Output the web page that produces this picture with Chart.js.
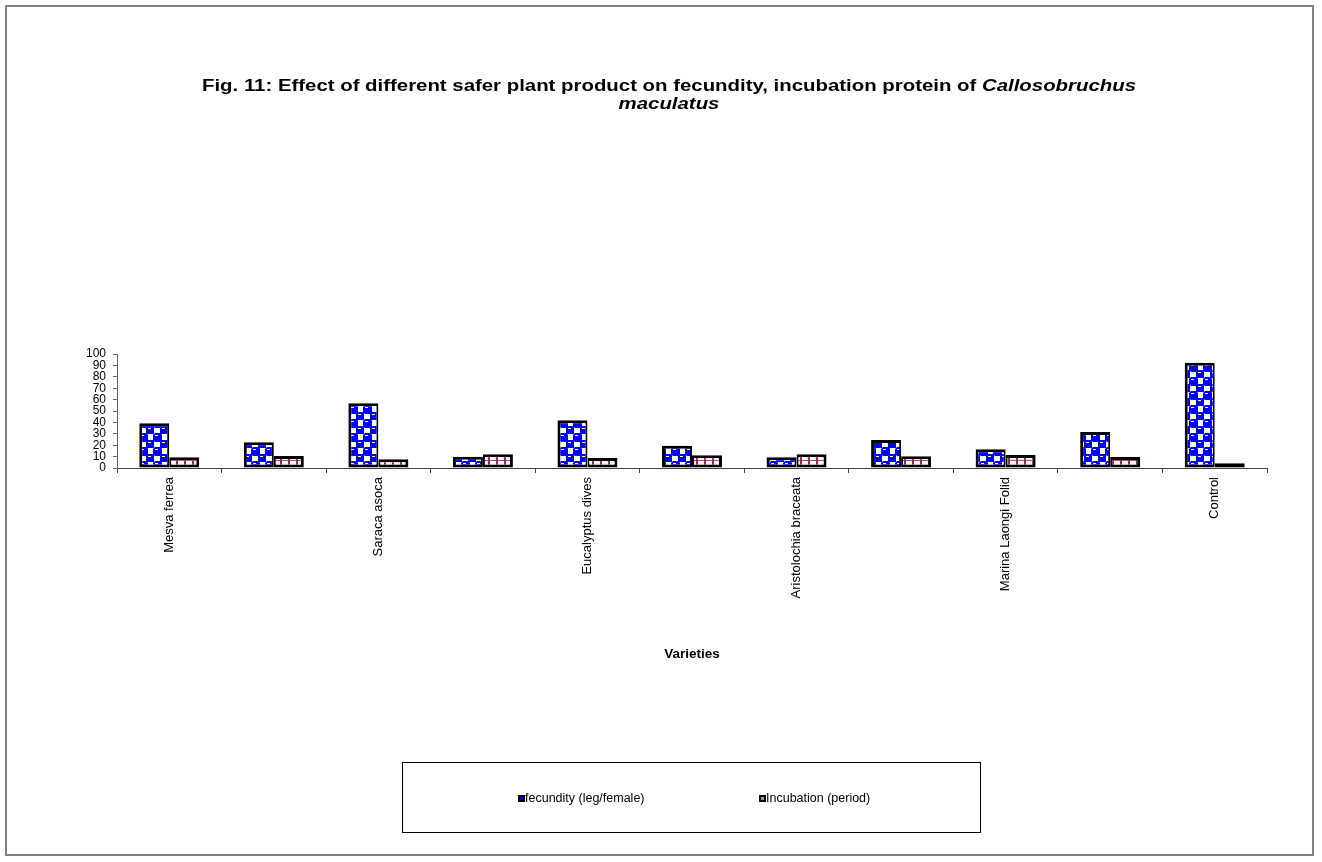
<!DOCTYPE html>
<html>
<head>
<meta charset="utf-8">
<script src="https://cdn.jsdelivr.net/npm/chart.js@4/dist/chart.umd.min.js"></script>
<style>
  html, body { margin: 0; padding: 0; background: #fff; }
  canvas { display: block; }
</style>
</head>
<body>
<canvas id="c" width="1322" height="862"></canvas>
<script>
// Treatments (only alternate names are printed on the axis)
const categories = ['Mesva ferrea', '', 'Saraca asoca', '', 'Eucalyptus dives', '',
  'Aristolochia braceata', '', 'Marina Laongi Folid', '', 'Control'];
const fecundity = [39.2, 22.5, 56.7, 9.9, 41.8, 19.6, 9.4, 24.6, 16.4, 31.6, 92.4];
const incubation = [9.4, 10.5, 7.6, 12.0, 8.8, 11.1, 12.0, 10.2, 11.4, 9.6, 4.1];
const seriesNames = ['fecundity (leg/female)', 'Incubation (period)'];
const yTicks = [0, 10, 20, 30, 40, 50, 60, 70, 80, 90, 100];

const FONT = '"Liberation Sans", Arial, Helvetica, sans-serif';

// Blue checker "sphere" fill
function spherePattern() {
  const t = document.createElement('canvas');
  t.width = 14; t.height = 14;
  const g = t.getContext('2d');
  g.fillStyle = '#ffffff'; g.fillRect(0, 0, 14, 14);
  const blob = (x, y) => {
    g.fillStyle = '#0000ff';
    g.beginPath();
    g.moveTo(x + 1, y - 1); g.lineTo(x + 7, y - 1); g.lineTo(x + 8, y + 1); g.lineTo(x + 8, y + 7);
    g.lineTo(x + 6, y + 8); g.lineTo(x + 1, y + 8); g.lineTo(x - 1, y + 6); g.lineTo(x - 1, y + 1);
    g.closePath(); g.fill();
    g.fillStyle = '#ffffff'; g.fillRect(x + 1, y + 1, 3, 1);
  };
  blob(0, 0); blob(14, 0); blob(0, 14); blob(14, 14); blob(7, 7);
  return g.createPattern(t, 'repeat');
}

// Maroon grid fill
function gridPattern() {
  const t = document.createElement('canvas');
  t.width = 8; t.height = 8;
  const g = t.getContext('2d');
  g.fillStyle = '#fcf4f7'; g.fillRect(0, 0, 8, 8);
  g.fillStyle = '#a8507c'; g.fillRect(0, 4, 8, 1);
  g.fillStyle = '#8e2c5c'; g.fillRect(0, 0, 2, 8);
  return g.createPattern(t, 'repeat');
}

const fillA = spherePattern();
const fillB = gridPattern();
const markA = '#0000ff', markB = '#c080a0';

// Frame, title and legend box
const decor = {
  id: 'decor',
  beforeDraw(chart) {
    const ctx = chart.ctx;
    ctx.save();
    ctx.fillStyle = '#fff';
    ctx.fillRect(0, 0, chart.width, chart.height);
    ctx.restore();
  },
  afterDraw(chart) {
    const ctx = chart.ctx;
    ctx.save();
    // outer frame
    ctx.strokeStyle = '#808080';
    ctx.lineWidth = 2;
    ctx.strokeRect(6, 6, 1307, 849);

    // title, stretched to the line width used by the figure
    const cx = 669, lineW = 934;
    const partA = 'Fig. 11: Effect of different safer plant product on fecundity, incubation protein of ';
    const partB = 'Callosobruchus';
    const fN = 'bold 16px ' + FONT, fI = 'italic bold 16px ' + FONT;
    ctx.fillStyle = '#000';
    ctx.textBaseline = 'middle';
    ctx.textAlign = 'left';
    ctx.font = fN; const wA = ctx.measureText(partA).width;
    ctx.font = fI; const wB = ctx.measureText(partB).width;
    const sx = lineW / (wA + wB);
    ctx.save();
    ctx.translate(cx, 0);
    ctx.scale(sx, 1);
    const x0 = -(wA + wB) / 2;
    ctx.font = fN; ctx.fillText(partA, x0, 87);
    ctx.font = fI; ctx.fillText(partB, x0 + wA, 87);
    ctx.textAlign = 'center';
    ctx.fillText('maculatus', 0, 105);
    ctx.restore();

    // legend
    ctx.strokeStyle = '#000';
    ctx.lineWidth = 1;
    ctx.strokeRect(402.5, 762.5, 578, 70);
    const items = [[518, markA], [759, markB]];
    ctx.font = '12.5px ' + FONT;
    ctx.textAlign = 'left';
    ctx.textBaseline = 'middle';
    items.forEach(([x, col], i) => {
      ctx.fillStyle = '#000';
      ctx.fillRect(x, 795, 7, 7);
      ctx.fillStyle = col;
      ctx.fillRect(x + 2, 797, 3, 3);
      ctx.fillStyle = '#000';
      ctx.fillText(chart.data.datasets[i].label, x + 7, 799);
    });
    ctx.restore();
  }
};

new Chart(document.getElementById('c'), {
  type: 'bar',
  data: {
    labels: categories,
    datasets: [
      {
        label: seriesNames[0],
        data: fecundity,
        backgroundColor: fillA,
        borderColor: '#000',
        borderWidth: { top: 3, left: 3, bottom: 3, right: 2 },
        borderSkipped: false,
        barPercentage: 1.0,
        categoryPercentage: 0.574
      },
      {
        label: seriesNames[1],
        data: incubation,
        backgroundColor: fillB,
        borderColor: '#000',
        borderWidth: { top: 3, left: 2, bottom: 3, right: 3 },
        borderSkipped: false,
        barPercentage: 1.0,
        categoryPercentage: 0.574
      }
    ]
  },
  options: {
    responsive: false,
    animation: false,
    layout: { padding: { left: 57, right: 55, top: 354, bottom: 200 } },
    plugins: { legend: { display: false }, tooltip: { enabled: false } },
    scales: {
      x: {
        afterFit: s => { s.height = 194; },
        ticks: {
          autoSkip: false, maxRotation: 90, minRotation: 90,
          color: '#000', padding: 4,
          font: { family: FONT, size: 13 }
        },
        grid: { drawOnChartArea: false, tickLength: 5, color: '#444', offset: true },
        border: { color: '#444', width: 1 },
        title: {
          display: true, text: 'Varieties', color: '#000', padding: 0,
          font: { family: FONT, size: 13.5, weight: 'bold' }
        }
      },
      y: {
        min: 0, max: 100,
        afterFit: s => { s.width = 60; },
        afterBuildTicks: s => { s.ticks = yTicks.map(v => ({ value: v })); },
        ticks: { autoSkip: false, color: '#000', padding: 7, font: { family: FONT, size: 12 } },
        grid: { drawOnChartArea: false, tickLength: 4, color: '#666' },
        border: { color: '#666', width: 1 }
      }
    }
  },
  plugins: [decor]
});
</script>
</body>
</html>
